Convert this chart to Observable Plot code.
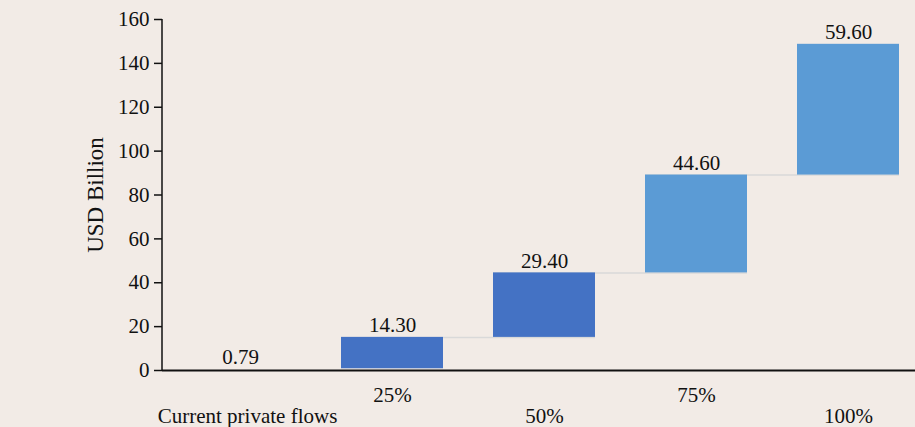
<!DOCTYPE html>
<html>
<head>
<meta charset="utf-8">
<script src="https://cdn.jsdelivr.net/npm/d3@7"></script>
<script src="https://cdn.jsdelivr.net/npm/@observablehq/plot@0.6"></script>
<style>
  html, body { margin: 0; padding: 0; background: #f2ebe6; }
  #chart svg { display: block; }
  #chart svg, #chart svg text { font-family: "Liberation Serif", "DejaVu Serif", serif !important; }
</style>
</head>
<body>
<div id="chart"></div>
<script>
const categories = ["Current private flows", "25%", "50%", "75%", "100%"];
const values = [0.79, 14.30, 29.40, 44.60, 59.60];
const valueLabels = ["0.79", "14.30", "29.40", "44.60", "59.60"];
const shades = ["none", "dark", "dark", "light", "light"];
const yTicks = [0, 20, 40, 60, 80, 100, 120, 140, 160];
const yTitle = "USD Billion";

let acc = 0;
const rows = categories.map((c, i) => {
  const start = acc;
  acc += values[i];
  return {cat: c, start, end: acc, label: valueLabels[i], shade: shades[i], idx: i};
});
const links = rows.slice(0, -1)
  .map((r, i) => ({from: r.cat, to: rows[i + 1].cat, level: r.end, shade: r.shade}))
  .filter(d => d.shade !== "none");

const leftAxisLine = (index, scales, values, dims) => {
  const y0 = scales.y(yTicks[0]);
  const y1 = scales.y(yTicks[yTicks.length - 1]);
  return d3.create("svg:line")
    .attr("x1", dims.marginLeft).attr("x2", dims.marginLeft)
    .attr("y1", y0 + 1).attr("y2", y1)
    .attr("stroke", "#111").attr("stroke-width", 1.5)
    .node();
};

const upperRow = categories.filter((_, i) => i % 2 === 1);
const lowerRow = categories.filter((_, i) => i % 2 === 0 && i > 0);

const chart = Plot.plot({
  width: 915,
  height: 427,
  marginLeft: 162,
  marginRight: 0,
  marginTop: 19,
  marginBottom: 57,
  style: {background: "#f2ebe6", fontSize: "21px", color: "#111"},
  x: {domain: categories, paddingInner: 0.33, paddingOuter: 0.138, align: 0.62, axis: null},
  y: {domain: [0, 160], axis: null},
  color: {domain: ["dark", "light"], range: ["#4472c4", "#5b9bd5"]},
  marks: [
    Plot.ruleY(links, {y: "level", x1: "from", x2: "to", stroke: "#d9d9d9", strokeWidth: 1.5}),
    Plot.barY(rows, {filter: d => d.shade !== "none", x: "cat", y1: "start", y2: "end", fill: "shade"}),
    Plot.text(rows, {x: "cat", y: "end", text: "label", dy: -12, fontSize: 21, fill: "#111"}),
    Plot.axisY(yTicks, {tickSize: 8, tickPadding: 5, fontSize: 21, stroke: "#111", strokeWidth: 1.5, label: null}),
    Plot.text([yTitle], {frameAnchor: "left", textAnchor: "middle", rotate: -90, dx: -67, fontSize: 23, fill: "#111"}),
    Plot.axisX(upperRow, {tickSize: 0, tickPadding: 17, fontSize: 21, label: null}),
    Plot.axisX(lowerRow, {tickSize: 0, tickPadding: 38, fontSize: 21, label: null}),
    Plot.axisX([categories[0]], {tickSize: 0, tickPadding: 38, fontSize: 21, dx: 7, label: null}),
    Plot.ruleY([0], {stroke: "#111", strokeWidth: 2}),
    leftAxisLine
  ]
});
document.getElementById("chart").appendChild(chart);
</script>
</body>
</html>
